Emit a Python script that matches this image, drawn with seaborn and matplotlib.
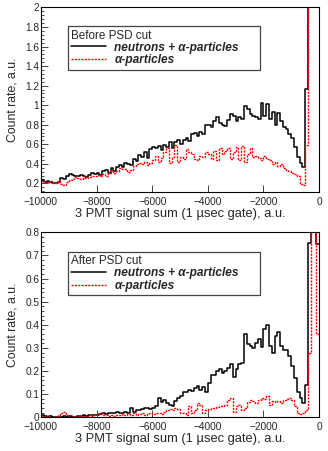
import numpy as np
import pandas as pd
import seaborn as sns
import matplotlib.pyplot as plt
from matplotlib.lines import Line2D
from matplotlib.ticker import MultipleLocator, FuncFormatter, NullLocator

# 100 bins of 100 a.u. from -10000 to 0
edges = np.arange(-10000, 1, 100)
centers = edges[:-1] + 50

# before PSD cut (bins above 2 run off the top of the frame)
before_all = [
    0.23, 0.21, 0.22, 0.21, 0.20, 0.20, 0.21, 0.25, 0.24, 0.28,
    0.30, 0.29, 0.28, 0.27, 0.29, 0.27, 0.26, 0.29, 0.31, 0.30,
    0.31, 0.29, 0.33, 0.34, 0.31, 0.36, 0.33, 0.37, 0.39, 0.37,
    0.41, 0.40, 0.39, 0.45, 0.43, 0.49, 0.47, 0.52, 0.46, 0.55,
    0.57, 0.56, 0.58, 0.54, 0.59, 0.57, 0.62, 0.56, 0.62, 0.64,
    0.60, 0.64, 0.66, 0.63, 0.70, 0.72, 0.68, 0.73, 0.71, 0.80,
    0.80, 0.78, 0.84, 0.88, 0.82, 0.80, 0.79, 0.85, 0.91, 0.89,
    0.84, 0.88, 0.86, 0.99, 0.96, 0.91, 0.89, 0.88, 0.86, 1.02,
    0.89, 1.01, 0.86, 0.93, 0.80, 0.92, 0.84, 0.78, 0.76, 0.70,
    0.66, 0.57, 0.47, 0.41, 0.37, 1.17, 2.50, 2.50, 2.50, 2.50,
]
before_alpha = [
    0.22, 0.21, 0.20, 0.22, 0.20, 0.20, 0.22, 0.19, 0.18, 0.21,
    0.23, 0.24, 0.26, 0.25, 0.24, 0.27, 0.25, 0.26, 0.28, 0.27,
    0.29, 0.27, 0.30, 0.28, 0.31, 0.34, 0.31, 0.33, 0.36, 0.35,
    0.35, 0.32, 0.34, 0.38, 0.40, 0.41, 0.40, 0.42, 0.39, 0.41,
    0.44, 0.48, 0.42, 0.46, 0.52, 0.56, 0.41, 0.47, 0.59, 0.42,
    0.47, 0.45, 0.55, 0.52, 0.50, 0.45, 0.44, 0.48, 0.47, 0.52,
    0.50, 0.45, 0.53, 0.44, 0.56, 0.50, 0.53, 0.56, 0.45, 0.52,
    0.57, 0.44, 0.58, 0.42, 0.50, 0.56, 0.47, 0.48, 0.46, 0.44,
    0.48, 0.45, 0.44, 0.40, 0.42, 0.38, 0.40, 0.36, 0.34, 0.33,
    0.31, 0.30, 0.28, 0.19, 0.18, 0.59, 2.50, 2.50, 2.50, 2.50,
]

# after PSD cut (bins above 0.8 run off the top of the frame)
after_all = [
    0.010, 0.005, 0.000, 0.005, 0.000, 0.000, 0.000, 0.000, 0.005, 0.000,
    0.005, 0.000, 0.000, 0.005, 0.005, 0.010, 0.005, 0.010, 0.010, 0.010,
    0.010, 0.015, 0.020, 0.015, 0.020, 0.020, 0.020, 0.025, 0.020, 0.020,
    0.025, 0.020, 0.040, 0.025, 0.030, 0.030, 0.035, 0.040, 0.040, 0.035,
    0.040, 0.050, 0.085, 0.065, 0.075, 0.060, 0.055, 0.050, 0.070, 0.085,
    0.090, 0.110, 0.110, 0.120, 0.115, 0.125, 0.135, 0.120, 0.130, 0.110,
    0.150, 0.185, 0.185, 0.200, 0.210, 0.190, 0.200, 0.215, 0.230, 0.175,
    0.210, 0.230, 0.235, 0.360, 0.315, 0.310, 0.300, 0.320, 0.340, 0.305,
    0.380, 0.400, 0.310, 0.280, 0.350, 0.370, 0.310, 0.290, 0.290, 0.265,
    0.220, 0.170, 0.110, 0.085, 0.060, 0.140, 0.755, 1.000, 1.000, 0.750,
]
after_alpha = [
    0.005, 0.000, 0.005, 0.000, 0.000, 0.005, 0.010, 0.020, 0.025, 0.010,
    0.000, 0.000, 0.005, 0.000, 0.005, 0.005, 0.000, 0.010, 0.005, 0.010,
    0.015, 0.020, 0.010, 0.010, 0.005, 0.010, 0.005, 0.010, 0.010, 0.015,
    0.010, 0.015, 0.010, 0.020, 0.010, 0.015, 0.020, 0.010, 0.015, 0.020,
    0.015, 0.020, 0.020, 0.015, 0.025, 0.030, 0.035, 0.030, 0.040, 0.035,
    0.020, 0.020, 0.010, 0.050, 0.020, 0.030, 0.060, 0.055, 0.020, 0.030,
    0.035, 0.040, 0.040, 0.045, 0.050, 0.050, 0.055, 0.075, 0.085, 0.025,
    0.050, 0.055, 0.030, 0.040, 0.065, 0.075, 0.070, 0.060, 0.075, 0.085,
    0.080, 0.090, 0.055, 0.070, 0.065, 0.070, 0.060, 0.075, 0.080, 0.085,
    0.075, 0.050, 0.020, 0.015, 0.020, 0.030, 0.280, 1.000, 1.000, 0.360,
]

df = pd.DataFrame({
    "signal": centers,
    "before_all": before_all,
    "before_alpha": before_alpha,
    "after_all": after_all,
    "after_alpha": after_alpha,
})

sns.set_style("ticks")
plt.rcParams["font.family"] = ["Liberation Sans", "DejaVu Sans"]

fig = plt.figure(figsize=(3.28, 4.51), dpi=100)
ax_top = fig.add_axes([0.125, 0.5736, 0.8476, 0.4098])
ax_bot = fig.add_axes([0.125, 0.0747, 0.8476, 0.4102])

red_dash = (0, (1.5, 0.9))
tick_fmt = FuncFormatter(lambda v, _: f"{v:g}".replace("-", "\u2212"))

panels = [
    (ax_top, "before_all", "before_alpha", "Before PSD cut", (0.108, 2.0), 0.2, 0.04,
     (0.096, 0.666, 0.692, 0.234)),
    (ax_bot, "after_all", "after_alpha", "After PSD cut", (0.0, 0.8), 0.1, 0.02,
     (0.096, 0.661, 0.692, 0.234)),
]

for ax, col_all, col_alpha, title, ylim, major, minor, box in panels:
    sns.histplot(data=df, x="signal", weights=col_all, binwidth=100,
                 binrange=(-10000, 0), element="step", fill=False,
                 color="black", linewidth=1.1, ax=ax)
    sns.histplot(data=df, x="signal", weights=col_alpha, binwidth=100,
                 binrange=(-10000, 0), element="step", fill=False,
                 color="red", linewidth=1.0, linestyle=red_dash, ax=ax)

    ax.set_xlim(-10000, 0)
    ax.set_ylim(*ylim)
    ax.xaxis.set_major_locator(MultipleLocator(2000))
    ax.xaxis.set_minor_locator(NullLocator())
    ax.yaxis.set_major_locator(MultipleLocator(major))
    ax.yaxis.set_minor_locator(MultipleLocator(minor))
    ax.xaxis.set_major_formatter(tick_fmt)
    ax.yaxis.set_major_formatter(tick_fmt)
    ax.tick_params(which="both", direction="in", labelsize=7.3, width=0.7,
                   top=False, right=False, color="#444444")
    ax.tick_params(axis="x", which="major", length=5, pad=3.5)
    ax.tick_params(axis="y", which="major", length=5, pad=1.2)
    ax.tick_params(which="minor", length=2.5)
    for side in ax.spines.values():
        side.set_visible(True)
        side.set_linewidth(0.8)
        side.set_color("black")

    ax.set_xlabel("3 PMT signal sum (1 µsec gate), a.u.", fontsize=9.3, labelpad=0.5)
    ax.set_ylabel("Count rate, a.u.", fontsize=8.8, labelpad=5)

    handles = [Line2D([], [], color="black", lw=1.1),
               Line2D([], [], color="red", lw=1.0, ls=red_dash)]
    leg = ax.legend(handles, ["neutrons + α-particles", "α-particles"],
                    title=title, loc="upper left", bbox_to_anchor=box,
                    mode="expand", prop={"weight": "bold", "style": "italic", "size": 8.6},
                    title_fontsize=8.4, frameon=True, fancybox=False,
                    framealpha=1, edgecolor="#444444", borderpad=0.3,
                    labelspacing=0.05, handlelength=2.9, handletextpad=0.7,
                    borderaxespad=0)
    leg._legend_box.align = "left"
    leg._legend_box.sep = 0
    leg.get_frame().set_linewidth(0.9)

fig.savefig("out.png", dpi=100)
